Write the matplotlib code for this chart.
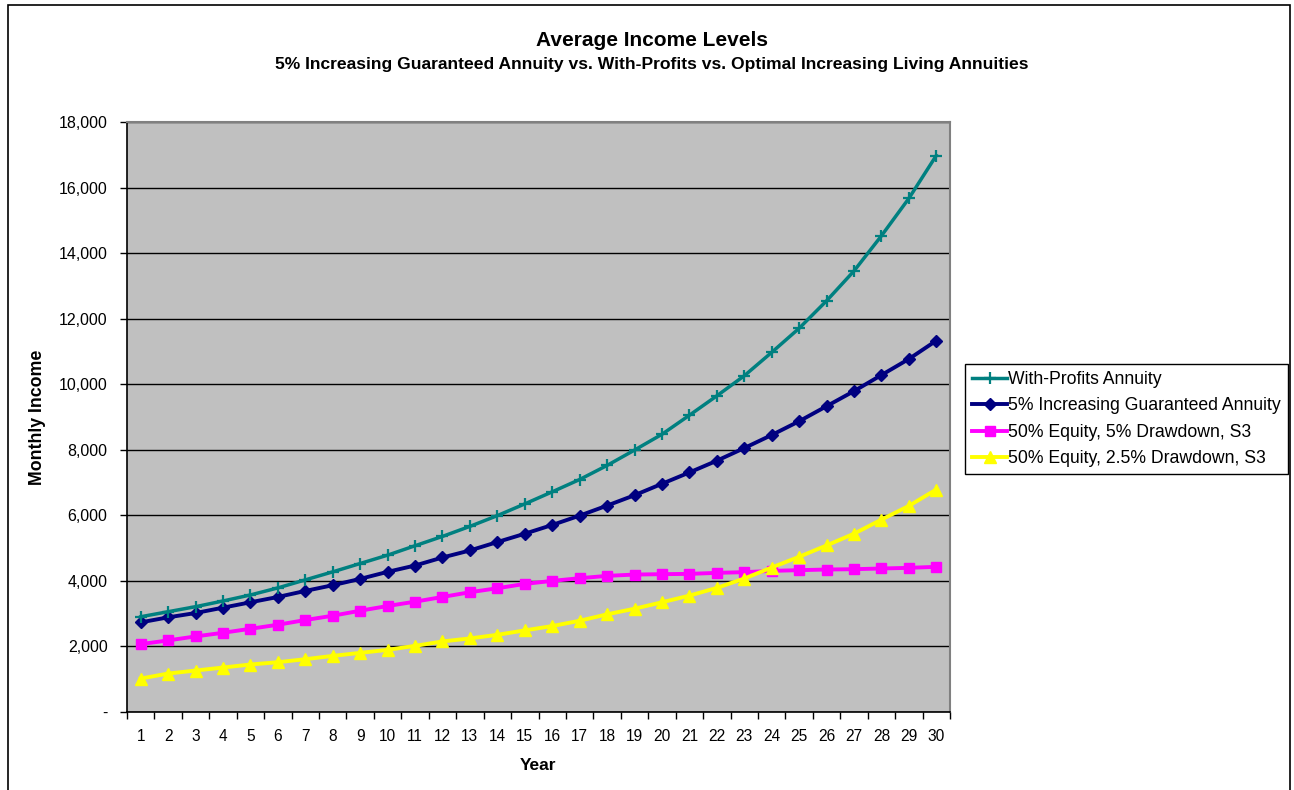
import numpy as np
import matplotlib.pyplot as plt
from matplotlib.patches import Rectangle
from matplotlib.ticker import FuncFormatter, FixedLocator

plt.rcParams['font.family'] = ['Liberation Sans', 'DejaVu Sans']

years = list(range(1, 31))

with_profits = [2906, 3060, 3213, 3387, 3571, 3786, 4031, 4276, 4530, 4785,
                5072, 5357, 5663, 5991, 6349, 6717, 7093, 7522, 7991, 8472,
                9053, 9645, 10257, 10971, 11706, 12544, 13455, 14527, 15669, 16977]
guaranteed_5pct = [2735, 2888, 3020, 3183, 3347, 3510, 3694, 3868, 4061, 4276,
                   4469, 4714, 4928, 5185, 5439, 5706, 5991, 6297, 6613, 6962,
                   7308, 7666, 8052, 8450, 8870, 9329, 9789, 10279, 10769, 11329]
equity_5pct_dd = [2070, 2184, 2306, 2417, 2539, 2662, 2806, 2937, 3090, 3234,
                  3366, 3510, 3654, 3776, 3908, 4000, 4082, 4153, 4193, 4205,
                  4214, 4245, 4266, 4306, 4327, 4347, 4357, 4378, 4398, 4429]
equity_25pct_dd = [1020, 1173, 1265, 1357, 1449, 1519, 1611, 1712, 1804, 1896,
                   2018, 2153, 2245, 2355, 2490, 2622, 2784, 2980, 3151, 3347,
                   3550, 3786, 4071, 4408, 4735, 5081, 5439, 5868, 6288, 6787]

labels = ['With-Profits Annuity', '5% Increasing Guaranteed Annuity',
          '50% Equity, 5% Drawdown, S3', '50% Equity, 2.5% Drawdown, S3']

fig = plt.figure(figsize=(12.94, 7.90), dpi=100)
ax = fig.add_axes([127 / 1294, 1 - 712 / 790, 823 / 1294, 590 / 790])
ax.set_facecolor('#C0C0C0')

# outer chart frame
fig.patches.append(Rectangle((8 / 1294, -0.1), 1282 / 1294, 1.1 - 5 / 790,
                             transform=fig.transFigure, fill=False,
                             edgecolor='black', linewidth=1.2))

ax.plot(years, with_profits, color='#008080', lw=2.5, marker='+', ms=9, mew=1.6,
        label=labels[0], zorder=5)
ax.plot(years, guaranteed_5pct, color='#000080', lw=2.8, marker='D', ms=6,
        label=labels[1], zorder=4)
ax.plot(years, equity_5pct_dd, color='#FF00FF', lw=2.8, marker='s', ms=7.5,
        label=labels[2], zorder=3)
ax.plot(years, equity_25pct_dd, color='#FFFF00', lw=2.8, marker='^', ms=8.5,
        label=labels[3], zorder=3)

ax.set_xlim(0.5, 30.5)
ax.set_ylim(0, 18000)
ax.set_yticks(np.arange(0, 18001, 2000))
ax.yaxis.set_major_formatter(FuncFormatter(lambda v, p: '-' if v == 0 else f'{int(v):,}'))
ax.set_xticks(years)
ax.xaxis.set_minor_locator(FixedLocator(np.arange(0.5, 31, 1)))
ax.tick_params(axis='x', which='major', length=0, pad=12, labelsize=11.2)
ax.tick_params(axis='x', which='minor', length=5, width=1, direction='out')
ax.tick_params(axis='y', length=5, width=1, direction='out', pad=9, labelsize=11.5)

ax.grid(axis='y', color='black', lw=1)
ax.set_axisbelow(True)
for s in ['top', 'right']:
    ax.spines[s].set_color('#808080')
    ax.spines[s].set_linewidth(1.5)
for s in ['left', 'bottom']:
    ax.spines[s].set_color('black')
    ax.spines[s].set_linewidth(1.2)

ax.set_xlabel('Year', fontsize=12.5, fontweight='bold')
ax.xaxis.set_label_coords(0.5, -(765 - 712) / 590, transform=ax.transAxes)
ax.xaxis.label.set_va('center')
ax.set_ylabel('Monthly Income', fontsize=12.8, fontweight='bold')
ax.yaxis.set_label_coords(-(127 - 37) / 823, 0.5)
ax.yaxis.label.set_va('center')

fig.text(652 / 1294, 1 - 40 / 790, 'Average Income Levels', ha='center', va='center',
         fontsize=15, fontweight='bold')
fig.text(652 / 1294, 1 - 64 / 790,
         '5% Increasing Guaranteed Annuity vs. With-Profits vs. Optimal Increasing Living Annuities',
         ha='center', va='center', fontsize=12.6, fontweight='bold')

leg = ax.legend(loc='upper left', bbox_to_anchor=(965 / 1294, 1 - 364 / 790),
                bbox_transform=fig.transFigure, fontsize=12.7, frameon=True,
                fancybox=False, edgecolor='black', framealpha=1, borderaxespad=0,
                handlelength=2.0, handletextpad=0.05, labelspacing=0.53,
                borderpad=0.4)
leg.get_frame().set_linewidth(1)

fig.savefig('out.png', dpi=100)
